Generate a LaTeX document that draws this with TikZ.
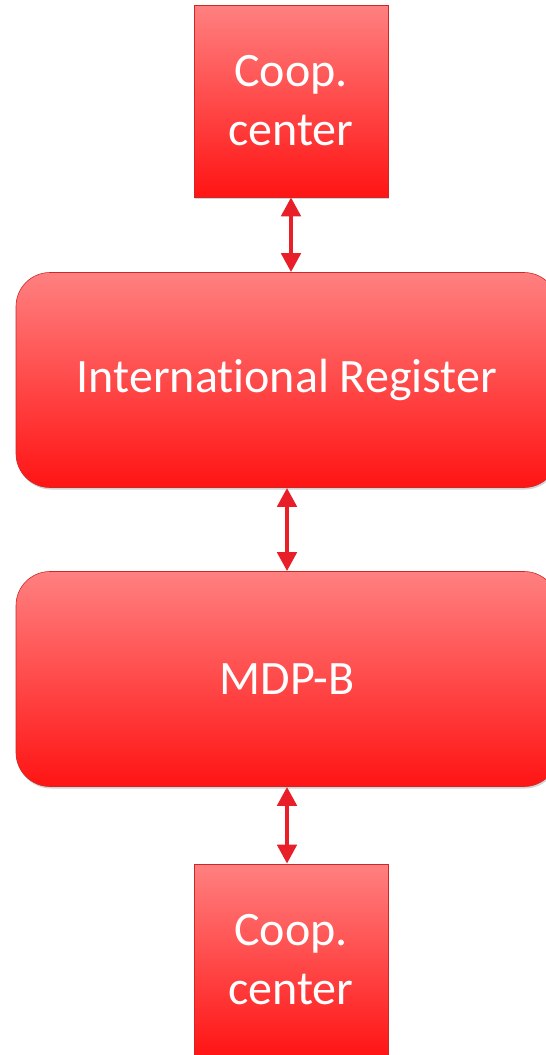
\documentclass[tikz,border=0pt]{standalone}
\usepackage{fontspec}
\setmainfont[Ligatures={NoCommon,NoContextual,NoRequired}]{Carlito}
\usetikzlibrary{arrows.meta,shadows}

\definecolor{boxtop}{RGB}{255,128,128}
\definecolor{boxbot}{RGB}{255,20,20}
\definecolor{boxline}{RGB}{205,40,40}
\definecolor{linkred}{RGB}{232,30,40}

\tikzset{
  box/.style={top color=boxtop, bottom color=boxbot, draw=boxline, line width=.6pt,
    text=white, align=center, font=\fontsize{48}{59}\selectfont,
    drop shadow={shadow xshift=1pt, shadow yshift=-2pt, opacity=.35}},
  smallbox/.style={box, minimum width=194pt, minimum height=192pt},
  bigbox/.style={box, rounded corners=34pt, minimum width=542pt, minimum height=215pt},
  link/.style={{Triangle[width=19pt,length=19pt]}-{Triangle[width=19pt,length=19pt]},
    linkred, line width=4.5pt}
}

\begin{document}
\begin{tikzpicture}[x=1pt,y=1pt]
  \useasboundingbox (0,0) rectangle (546,-1055);

  \node[smallbox] (coop1) at (291,-101) {Coop.\\center};
  \node[bigbox] (reg) at (287,-380) {International Register};
  \node[bigbox] (mdp) at (287,-679) {MDP-B};
  \node[smallbox] (coop2) at (291,-960) {Coop.\\center};

  \draw[link] (coop1.south) -- (coop1.south |- reg.north);
  \draw[link] (reg.south) -- (mdp.north);
  \draw[link] (mdp.south) -- (coop2.north -| mdp.south);
\end{tikzpicture}
\end{document}
